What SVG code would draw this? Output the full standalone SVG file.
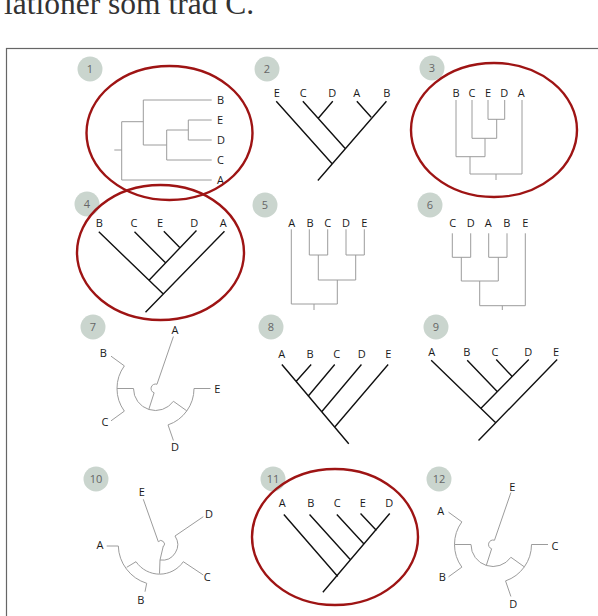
<svg xmlns="http://www.w3.org/2000/svg" width="598" height="616" viewBox="0 0 598 616">
<style>
.g{fill:none;stroke:#9c9c9c;stroke-width:1}
.k{fill:none;stroke:#111;stroke-width:1.4;stroke-linecap:square}
.r{fill:none;stroke:#9e1414;stroke-width:2.4}
.lb{font-family:"Open Sans","Noto Sans",sans-serif;font-size:11px;fill:#1a1a1a;text-anchor:middle}
.ls{text-anchor:start}
.nb circle{fill:#cad5ce}
.nb text{font-family:"Open Sans","Noto Sans",sans-serif;font-size:11px;fill:#666;text-anchor:middle}
</style>
<defs>
<g id="rad1">
<path class="g" d="M173.41,336.5L156.97,384.25A4.5,4.5 0 1 0 154.13,392.79L148.79,409.45M133.5,388.5A22,22 0 0 0 173.41,401.28M133.5,388.5H117M124.35,365.87A38.5,38.5 0 0 0 124.35,411.13M124.35,365.87L111,356.17M124.35,411.13L111,420.83M173.41,401.28L186.84,410.86M194,388.5A38.5,38.5 0 0 1 168.04,424.9M194,388.5H210.5M168.04,424.9L173.41,440.5"/>
</g>
</defs>
<rect width="598" height="616" fill="#fff"/>
<text x="4" y="14" font-family="Liberation Serif, serif" font-size="31.5" fill="#333">lationer som träd C.</text>
<rect x="6.5" y="48.5" width="700" height="700" fill="none" stroke="#666" stroke-width="1.2"/>

<g id="numbers" class="nb">
<circle cx="90" cy="69" r="12.5"/><text x="90" y="73">1</text>
<circle cx="267" cy="69" r="12.5"/><text x="267" y="73">2</text>
<circle cx="432" cy="68" r="12.5"/><text x="432" y="72">3</text>
<circle cx="87" cy="204" r="12.5"/><text x="87" y="208">4</text>
<circle cx="265" cy="205" r="12.5"/><text x="265" y="209">5</text>
<circle cx="430" cy="205" r="12.5"/><text x="430" y="209">6</text>
<circle cx="93" cy="327" r="12.5"/><text x="93" y="331">7</text>
<circle cx="271" cy="327" r="12.5"/><text x="271" y="331">8</text>
<circle cx="436" cy="327" r="12.5"/><text x="436" y="331">9</text>
<circle cx="96" cy="479" r="12.5"/><text x="96" y="483">10</text>
<circle cx="273" cy="479" r="12.5"/><text x="273" y="483">11</text>
<circle cx="439" cy="479" r="12.5"/><text x="439" y="483">12</text>
</g>

<g id="connectors">
<!-- tree 1 -->
<path class="g" d="M143.3,100H211.7M188.3,120H211.7M188.3,140H211.7M188.3,120V140M166.7,130H188.3M166.7,160H211.7M166.7,130V160M143.3,145H166.7M143.3,100V145M121.7,121.7H143.3M121.7,180H211.7M121.7,121.7V180M114.3,150H121.7"/>
<!-- tree 2 -->
<path class="k" d="M318.3,180L386,101.7M276.7,101.7L331.7,163.3M303.3,101.7L345,148.3M332.3,101.7L318.3,118.3M357.3,101.7L370.7,116.7"/>
<!-- tree 3 -->
<path class="g" d="M456,100V156.7M472,100V138.3M488,100V119.3M504.7,100V119.3M488,119.3H504.7M496.7,119.3V138.3M472,138.3H496.7M485,138.3V156.7M456,156.7H485M470,156.7V174M522,100V174M470,174H522M496,174V180"/>
<!-- tree 4 -->
<path class="k" d="M146,311.7L224,231.7M99.3,232.3L163.3,294M149.3,280L196,231M135,232.3L165,262.3M164.3,231.7L179,246.7"/>
<!-- tree 5 -->
<path class="g" d="M291.3,229.3V304M309.3,229.3V255M327.7,229.3V255M309.3,255H327.7M346,229.3V255M364.3,229.3V255M346,255H364.3M318.3,255V280M355.7,255V280M318.3,280H355.7M337.3,280V304M291.3,304H337.3M314,304V310"/>
<!-- tree 6 -->
<path class="g" d="M452.3,233.3V257.3M470.7,233.3V257.3M452.3,257.3H470.7M488.7,233.3V257.3M507,233.3V257.3M488.7,257.3H507M461.3,257.3V281M498.3,257.3V281M461.3,281H498.3M479.7,281V305.7M525.3,233.3V305.7M479.7,305.7H525.3M502.3,305.7V310"/>
<!-- tree 7 -->
<use href="#rad1"/>
<!-- tree 8 -->
<path class="k" d="M282.3,365L348.3,443.3M310.7,365L296.7,380.7M334.3,365L308.3,396M361,365L321.7,411.7M387.7,365L335,426.7"/>
<!-- tree 9 -->
<path class="k" d="M479,440L556.7,360M431.7,360.7L495.7,422.7M481,408.3L528.3,360M467.7,360.7L496.7,391M496.7,360L511.7,376"/>
<!-- tree 10 -->
<path class="g" d="M143.3,499.3L158.3,541.7A3.5,3.5 0 0 1 163.5,546.5M163.3,546L160,560M175,536A15.5,15.5 0 0 1 160,560L159.5,573.7M203.3,516.7L175,536M136,561.7A28.7,28.7 0 0 0 183.3,561.7L203.3,575M136,561.7L126.7,567.3M118.3,546A40.5,40.5 0 0 0 146.7,583.3L145,591.7M106.7,546H118.3"/>
<!-- tree 11 -->
<path class="k" d="M323.3,591.7L389.3,514M284.3,515L337.3,576M310,515L350,559.3M337.3,515L363.3,543.3M361,514L376,530"/>
<!-- tree 12 -->
<use href="#rad1" transform="translate(337.5,156)"/>
</g>

<g id="labels" class="lb">
<text class="ls" x="217" y="104">B</text><text class="ls" x="217" y="124">E</text><text class="ls" x="217" y="144">D</text><text class="ls" x="217" y="164">C</text><text class="ls" x="217" y="184">A</text>
<text x="276.7" y="97.3">E</text><text x="303.3" y="97.3">C</text><text x="332.3" y="97.3">D</text><text x="356.7" y="97.3">A</text><text x="386.7" y="97.3">B</text>
<text x="456" y="97.3">B</text><text x="472" y="97.3">C</text><text x="488" y="97.3">E</text><text x="504.3" y="97.3">D</text><text x="521.3" y="97.3">A</text>
<text x="99.3" y="227.3">B</text><text x="134" y="227.3">C</text><text x="160" y="227.3">E</text><text x="194.3" y="227.3">D</text><text x="223.3" y="227.3">A</text>
<text x="291.7" y="227.3">A</text><text x="310" y="227.3">B</text><text x="327.7" y="227.3">C</text><text x="346" y="227.3">D</text><text x="364.3" y="227.3">E</text>
<text x="452.7" y="227.3">C</text><text x="470.7" y="227.3">D</text><text x="488.3" y="227.3">A</text><text x="506.7" y="227.3">B</text><text x="525.3" y="227.3">E</text>
<text x="175" y="334">A</text><text x="103.3" y="356.7">B</text><text x="105" y="425.7">C</text><text x="175" y="451.3">D</text><text x="217.3" y="393">E</text>
<text x="281.7" y="358.3">A</text><text x="310" y="358.3">B</text><text x="336.7" y="358.3">C</text><text x="361.7" y="358.3">D</text><text x="388.3" y="358.3">E</text>
<text x="431.7" y="355.7">A</text><text x="466.7" y="355.7">B</text><text x="495" y="355.7">C</text><text x="528.3" y="355.7">D</text><text x="556" y="355.7">E</text>
<text x="141.7" y="495.7">E</text><text x="209" y="518">D</text><text x="100" y="549">A</text><text x="140.7" y="604">B</text><text x="207.3" y="581.3">C</text>
<text x="282.3" y="507.3">A</text><text x="310.7" y="507.3">B</text><text x="337.3" y="507.3">C</text><text x="362.7" y="507.3">E</text><text x="389.3" y="507.3">D</text>
<text x="512.3" y="490.7">E</text><text x="440.7" y="514.7">A</text><text x="555" y="550">C</text><text x="442.3" y="581.3">B</text><text x="513.3" y="608">D</text>
</g>

<g id="ellipses">
<ellipse class="r" cx="169.5" cy="133" rx="83" ry="67"/>
<ellipse class="r" cx="494" cy="130" rx="83" ry="67"/>
<ellipse class="r" cx="160.5" cy="252.5" rx="83.5" ry="67.5"/>
<ellipse class="r" cx="335" cy="537" rx="83" ry="68"/>
</g>
</svg>
